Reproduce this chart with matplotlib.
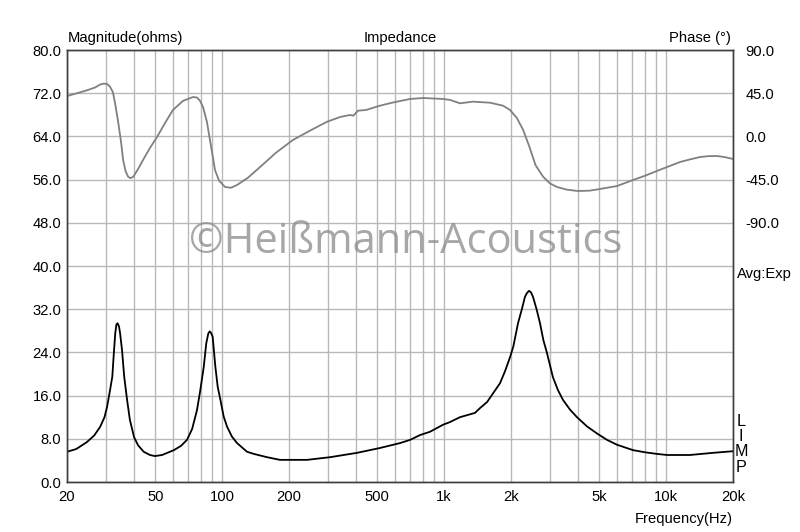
import matplotlib
matplotlib.use("Agg")
import matplotlib.pyplot as plt
from matplotlib.ticker import FixedLocator, NullFormatter, NullLocator

# impedance magnitude (ohms)
imp_freq = [20, 22, 24.6, 26.5, 28.2, 29.5, 30.3, 31.1, 32.0, 32.5, 33.0, 33.4,
            33.8, 34.3, 34.7, 35.4, 36.2, 37.3, 38.4, 40.1, 41.8, 44.3, 47.3,
            49.8, 53.6, 60.6, 65.3, 69.4, 73.2, 77.0, 79.7, 82.6, 84.8, 86.6,
            87.9, 89.1, 90.6, 93.2, 95.5, 98.2, 101.6, 105.3, 110.7, 116.7,
            129.4, 139, 159, 182, 241, 307, 405, 514, 632, 702, 779, 863, 988,
            1062, 1178, 1377, 1451, 1560, 1785, 1879, 1980, 2049, 2151, 2235,
            2312, 2360, 2412, 2462, 2512, 2611, 2702, 2797, 2904, 3090, 3256,
            3430, 3689, 3965, 4398, 4875, 5414, 6005, 7090, 8030, 9090, 10100,
            12780, 16250, 20000]
imp_ohm = [5.6, 6.1, 7.4, 8.6, 10.2, 12.0, 13.9, 16.5, 19.5, 23.8, 27.6, 29.2,
           29.4, 28.8, 27.5, 24.4, 19.5, 15.2, 11.5, 8.3, 6.8, 5.6, 5.0,
           4.8, 5.0, 5.9, 6.7, 7.8, 9.8, 13.3, 17.0, 21.3, 25.7, 27.5,
           27.9, 27.6, 26.9, 21.3, 17.6, 15.2, 12.1, 10.2, 8.4, 7.2,
           5.6, 5.2, 4.6, 4.1, 4.1, 4.6, 5.4, 6.3, 7.2, 7.8, 8.7, 9.3, 10.6,
           11.1, 12.0, 12.8, 13.7, 14.8, 18.3, 20.5, 23.1, 25.1, 29.4, 31.9,
           34.3, 35.0, 35.4, 35.1, 34.3, 31.9, 29.4, 26.3, 23.9, 19.4, 17.0,
           15.2, 13.4, 12.0, 10.3, 9.0, 7.8, 6.9, 5.9, 5.5, 5.2, 5.0,
           5.0, 5.4, 5.7]

# phase (degrees)
ph_freq = [20, 22.2, 24.6, 26.8, 28.2, 29.3, 30.3, 31.2, 32.2, 32.9, 33.9, 35.0,
           35.8, 36.7, 37.7, 38.6, 39.8, 41.8, 44.0, 47.3, 50.9, 55.3, 60.0,
           66.6, 73.9, 77.0, 79.5, 82.0, 85.4, 88.1, 90.9, 92.8, 96.8, 103,
           109.6, 116.7, 130.7, 148, 174.7, 208, 248.6, 297, 340, 376, 390,
           409, 444.6, 514, 580, 702, 803, 988, 1062, 1178, 1349, 1610, 1841,
           1980, 2128, 2269, 2420, 2580, 2790, 2998, 3220, 3575, 4005, 4530,
           5030, 6005, 7090, 8030, 9090, 10200, 11540, 12780, 14200, 15430,
           16920, 18300, 20000]
ph_deg = [42, 45, 48, 51, 54, 55, 54.6, 52, 46, 35, 17, -5,
          -24.6, -36, -42, -43.5, -42, -34, -24.6, -12, -0.6, 14, 27.5,
          37, 41, 40.5, 37, 30.6, 15, -3.8, -22, -35, -46, -52.7,
          -53.5, -50.6, -43, -32, -17, -3.8, 6, 15.3, 20.2, 22.3, 21.6,
          26.8, 27.5, 32, 35, 39, 40, 39, 38, 34.5, 36.2, 35.1, 32,
          27.5, 19, 6.7, -10.7, -30, -42, -49, -52.7, -55.5, -56.9, -56.5,
          -54.8, -51.7, -45.4, -41, -36, -31.5, -26.7, -24, -21.5, -20.6,
          -20.4, -21.5, -23.5]

x_ticks = [20, 50, 100, 200, 500, 1000, 2000, 5000, 10000, 20000]
x_labels = ["20", "50", "100", "200", "500", "1k", "2k", "5k", "10k", "20k"]
grid_freqs = [m * 10 ** e for e in range(1, 5) for m in range(1, 10)]
grid_freqs = [f for f in grid_freqs if 20 <= f <= 20000]
ohm_ticks = [0, 8, 16, 24, 32, 40, 48, 56, 64, 72, 80]
deg_ticks = [90, 45, 0, -45, -90]

plt.rcParams["font.family"] = ["Liberation Sans", "DejaVu Sans"]
fs = 10.6

fig = plt.figure(figsize=(8, 5.32), dpi=100)
ax = fig.add_axes([67 / 800, 1 - 482 / 532, 666 / 800, 432 / 532])
ax.set_xscale("log")
ax.set_xlim(20, 20000)
ax.set_ylim(0, 80)

for f in grid_freqs:
    ax.axvline(f, color="#b8b8b8", lw=1.0, zorder=0)
for v in ohm_ticks:
    ax.axhline(v, color="#b8b8b8", lw=1.0, zorder=0)

ax.xaxis.set_major_locator(FixedLocator(x_ticks))
ax.set_xticklabels(x_labels)
ax.xaxis.set_minor_locator(NullLocator())
ax.xaxis.set_minor_formatter(NullFormatter())
ax.set_yticks(ohm_ticks)
ax.set_yticklabels([f"{v:.1f}" for v in ohm_ticks])
ax.tick_params(axis="both", length=0, labelsize=fs, colors="black")
ax.tick_params(axis="x", pad=6)
ax.tick_params(axis="y", pad=4)

ax.plot(imp_freq, imp_ohm, color="black", lw=1.3, zorder=3)

ax2 = ax.twinx()
ax2.set_ylim(-360, 90)
ax2.set_yticks(deg_ticks)
ax2.set_yticklabels([f"{v:.1f}" for v in deg_ticks])
ax2.tick_params(axis="y", length=0, labelsize=fs, pad=9)
ax2.plot(ph_freq, ph_deg, color="#808080", lw=1.3, zorder=2)

for a in (ax, ax2):
    for s in a.spines.values():
        s.set_color("#404040")
        s.set_linewidth(1.0)

# watermark
fig.text(406 / 800, 1 - 242 / 532, "\u00a9Hei\u00dfmann-Acoustics", family="Open Sans",
         fontsize=30, color="#8a8a8a", alpha=0.75, ha="center", va="center")

fig.text(68 / 800, 1 - 38 / 532, "Magnitude(ohms)", fontsize=fs, ha="left", va="center")
fig.text(400 / 800, 1 - 38 / 532, "Impedance", fontsize=fs, ha="center", va="center")
fig.text(731 / 800, 1 - 38 / 532, "Phase (\u00b0)", fontsize=fs, ha="right", va="center")
fig.text(733 / 800, 1 - 519 / 532, "Frequency(Hz)", fontsize=fs, ha="right", va="center")
fig.text(737 / 800, 1 - 274 / 532, "Avg:Exp", fontsize=fs, ha="left", va="center")
for i, ch in enumerate("LIMP"):
    fig.text(741 / 800, 1 - (421 + i * 15.5) / 532, ch, fontsize=fs + 1,
             ha="center", va="center")

fig.savefig("out.png", dpi=100, facecolor="white")
